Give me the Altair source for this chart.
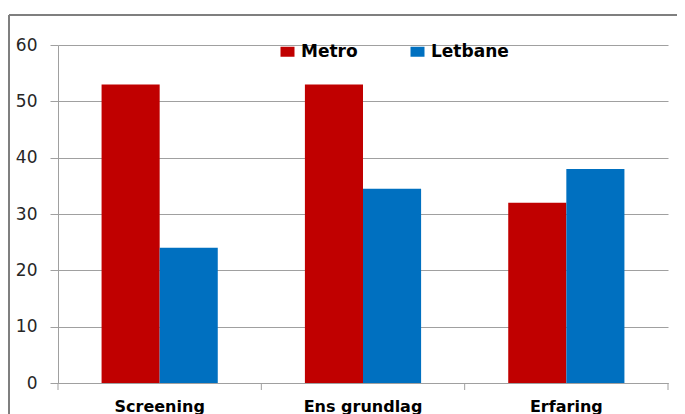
import altair as alt
import pandas as pd

categories = ["Screening", "Ens grundlag", "Erfaring"]
series = ["Metro", "Letbane"]
metro = [53, 53, 32]
letbane = [24, 34.5, 38]
colors = ["#C00000", "#0070C0"]
y_ticks = [0, 10, 20, 30, 40, 50, 60]

rows = []
for c, m, l in zip(categories, metro, letbane):
    rows.append({"Kategori": c, "Serie": "Metro", "Vaerdi": m})
    rows.append({"Kategori": c, "Serie": "Letbane", "Vaerdi": l})
df = pd.DataFrame(rows)

W, H = 610, 338
PAD_L, PAD_T = 50, 37
SVG_W, SVG_H = 669, 406
FONT = "DejaVu Sans"
GRID = "#a0a0a0"

x_scale = alt.Scale(domain=categories, paddingInner=0, paddingOuter=0)

bars = alt.Chart(df).mark_bar().encode(
    x=alt.X("Kategori:N", scale=x_scale, sort=categories,
            axis=alt.Axis(title=None, labelAngle=0, ticks=False, tickSize=0,
                          labelPadding=15, labelFont=FONT, labelFontSize=16,
                          labelFontWeight="bold", labelColor="#000000",
                          domainColor=GRID, grid=False)),
    xOffset=alt.XOffset("Serie:N", sort=series,
                        scale=alt.Scale(domain=series, paddingInner=0, paddingOuter=0.75)),
    y=alt.Y("Vaerdi:Q", scale=alt.Scale(domain=[0, 60], nice=False),
            axis=alt.Axis(title=None, values=y_ticks, grid=True, gridColor=GRID,
                          domainColor=GRID, tickColor=GRID, tickSize=8,
                          labelPadding=13, labelFont=FONT, labelFontSize=17,
                          labelColor="#262626")),
    color=alt.Color("Serie:N", sort=series,
                    scale=alt.Scale(domain=series, range=colors),
                    legend=alt.Legend(title=None, orient="none", legendX=221, legendY=-2,
                                      direction="horizontal",
                                      symbolType="M-1.4,-1L1.4,-1L1.4,1L-1.4,1Z",
                                      symbolSize=100, symbolStrokeWidth=0,
                                      labelFont=FONT, labelFontSize=17,
                                      labelFontWeight="bold", labelColor="#000000",
                                      labelOffset=5, columnPadding=51, padding=0)),
)

tick_start = alt.Chart(df).transform_filter(alt.datum.Serie == "Metro").mark_rule(
    color=GRID, strokeWidth=1).encode(
    x=alt.X("Kategori:N", scale=x_scale, sort=categories, bandPosition=0),
    y=alt.value(H), y2=alt.value(H + 7))

tick_end = alt.Chart(df).transform_filter(
    (alt.datum.Serie == "Metro") & (alt.datum.Kategori == categories[-1])).mark_rule(
    color=GRID, strokeWidth=1).encode(
    x=alt.X("Kategori:N", scale=x_scale, sort=categories, bandPosition=1),
    y=alt.value(H), y2=alt.value(H + 7))

frame = alt.Data(values=[{"f": 1}])
frame_left = alt.Chart(frame).mark_rule(color="#7f7f7f", strokeWidth=2).encode(
    x=alt.value(-49), y=alt.value(-30), y2=alt.value(H + 200))
frame_top = alt.Chart(frame).mark_rule(color="#7f7f7f", strokeWidth=2).encode(
    x=alt.value(-49), x2=alt.value(W + 200), y=alt.value(-30))

chart = alt.layer(bars, tick_start, tick_end, frame_left, frame_top).properties(
    width=W, height=H,
    autosize=alt.AutoSizeParams(type="none"),
    padding={"left": PAD_L, "top": PAD_T,
             "right": SVG_W - PAD_L - W, "bottom": SVG_H - PAD_T - H},
).configure_view(stroke=None)

chart.save("out.html", embed_options={"renderer": "svg", "actions": False})
